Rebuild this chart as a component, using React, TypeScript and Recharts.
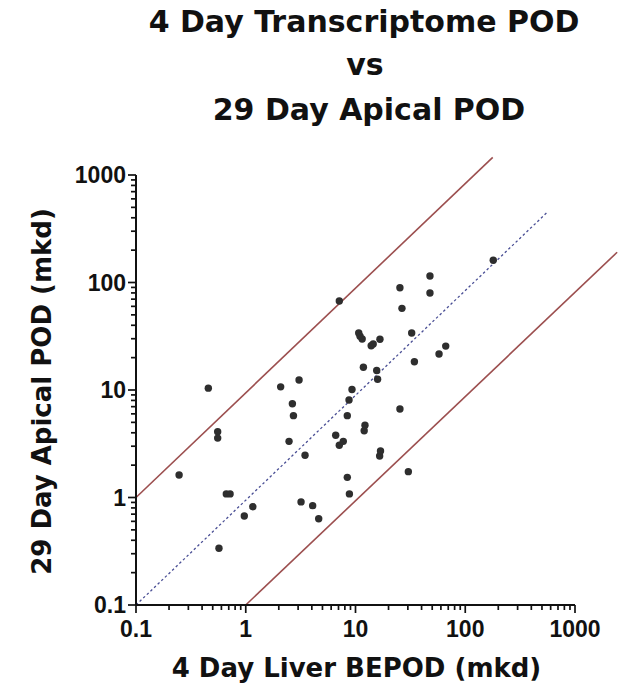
import { ScatterChart, Scatter, XAxis, YAxis, ReferenceLine } from "recharts";

// 4 day liver BEPOD (x) vs 29 day apical POD (y), both mkd
const liverBepod = [
  0.247, 0.456, 0.555, 0.555, 0.57, 0.665, 0.72, 0.97, 1.16, 2.08, 2.48, 2.66,
  2.72, 3.06, 3.19, 3.47, 4.07, 4.62, 6.6, 7.12, 7.74, 7.12, 8.42, 8.42, 8.8,
  8.73, 9.29, 10.7, 11.0, 11.5, 11.8, 12.0, 12.2, 13.9, 14.5, 15.6, 15.9, 16.6,
  16.9, 16.7, 25.4, 25.4, 26.5, 30.3, 32.5, 34.4, 47.7, 47.7, 57.7, 66.4, 180,
];
const apicalPod = [
  1.62, 10.4, 4.1, 3.57, 0.337, 1.08, 1.08, 0.673, 0.82, 10.7, 3.33, 7.46,
  5.77, 12.4, 0.91, 2.47, 0.84, 0.635, 3.79, 3.06, 3.33, 67.3, 5.77, 1.54, 1.08,
  8.07, 10.1, 33.9, 31.6, 29.8, 16.3, 4.18, 4.7, 25.8, 26.8, 15.2, 12.6, 2.43,
  2.71, 29.7, 89.5, 6.66, 57.5, 1.74, 33.9, 18.3, 115, 79.8, 21.6, 25.6, 161,
];

const majorTicks = [0.1, 1, 10, 100, 1000];
const tickLabels = ["0.1", "1", "10", "100", "1000"];
const allTicks = [
  0.1, 0.2, 0.3, 0.4, 0.5, 0.6, 0.7, 0.8, 0.9,
  1, 2, 3, 4, 5, 6, 7, 8, 9,
  10, 20, 30, 40, 50, 60, 70, 80, 90,
  100, 200, 300, 400, 500, 600, 700, 800, 900,
  1000,
];

// guide lines as drawn in the figure (1:1 and +/- 10 fold)
const unityLine = [
  { x: 0.1, y: 0.1 },
  { x: 553, y: 446 },
];
const upperLine = [
  { x: 0.1, y: 1 },
  { x: 178, y: 1460 },
];
const lowerLine = [
  { x: 1, y: 0.1 },
  { x: 2420, y: 191 },
];

const points = liverBepod.map((x, i) => ({ x, y: apicalPod[i] }));

const tickFont = "'Liberation Sans', Arial, sans-serif";
const titleFont = "'DejaVu Sans', sans-serif";

function labelFor(v: number) {
  const i = majorTicks.indexOf(v);
  return i >= 0 ? tickLabels[i] : null;
}

function XTick(props: any) {
  const { x, y, payload } = props;
  const label = labelFor(payload.value);
  return (
    <g>
      <line x1={x} x2={x} y1={y} y2={y + (label ? 8 : 5)} stroke="#111" strokeWidth={1.7} />
      {label && (
        <text x={x} y={y + 32} textAnchor="middle" fontFamily={tickFont} fontWeight="bold" fontSize={23} fill="#111">
          {label}
        </text>
      )}
    </g>
  );
}

function YTick(props: any) {
  const { x, y, payload } = props;
  const label = labelFor(payload.value);
  return (
    <g>
      <line x1={x - (label ? 8 : 5)} x2={x} y1={y} y2={y} stroke="#111" strokeWidth={1.7} />
      {label && (
        <text x={x - 10} y={y + 8} textAnchor="end" fontFamily={tickFont} fontWeight="bold" fontSize={23} fill="#111">
          {label}
        </text>
      )}
    </g>
  );
}

const Dot = (props: any) => <circle cx={props.cx} cy={props.cy} r={3.7} fill="#2e2e2e" />;

export default function App() {
  return (
    <div style={{ position: "absolute", left: 0, top: 0, width: 633, height: 685, background: "#fff" }}>
      <ScatterChart width={633} height={685} margin={{ top: 175, right: 58, bottom: 0, left: 0 }}>
        <XAxis
          type="number"
          dataKey="x"
          scale="log"
          domain={[0.1, 1000]}
          allowDataOverflow
          ticks={allTicks}
          interval={0}
          tick={<XTick />}
          tickLine={false}
          tickSize={0}
          tickMargin={0}
          height={80}
          axisLine={{ stroke: "#111", strokeWidth: 2 }}
        />
        <YAxis
          type="number"
          dataKey="y"
          scale="log"
          domain={[0.1, 1000]}
          allowDataOverflow
          ticks={allTicks}
          interval={0}
          tick={<YTick />}
          tickLine={false}
          tickSize={0}
          tickMargin={0}
          width={136}
          axisLine={{ stroke: "#111", strokeWidth: 2 }}
        />
        <ReferenceLine segment={upperLine} ifOverflow="visible" stroke="#9c4f4f" strokeWidth={1.6} />
        <ReferenceLine segment={lowerLine} ifOverflow="visible" stroke="#9c4f4f" strokeWidth={1.6} />
        <ReferenceLine
          segment={unityLine}
          ifOverflow="visible"
          stroke="#4a4f95"
          strokeWidth={1.3}
          strokeDasharray="2.5 2.5"
        />
        <Scatter data={points} shape={<Dot />} isAnimationActive={false} />
      </ScatterChart>
      <svg
        width={633}
        height={685}
        style={{ position: "absolute", left: 0, top: 0, pointerEvents: "none" }}
      >
        <g fontFamily={titleFont} fontWeight="bold" fill="#111" textAnchor="middle">
          <text x={364} y={31.5} fontSize={30}>4 Day Transcriptome POD</text>
          <text x={365} y={75} fontSize={30}>vs</text>
          <text x={369} y={120} fontSize={30}>29 Day Apical POD</text>
          <text x={356.5} y={677} fontSize={26}>4 Day Liver BEPOD (mkd)</text>
          <text x={0} y={0} fontSize={26} transform="translate(51 391.5) rotate(-90)">
            29 Day Apical POD (mkd)
          </text>
        </g>
      </svg>
    </div>
  );
}
